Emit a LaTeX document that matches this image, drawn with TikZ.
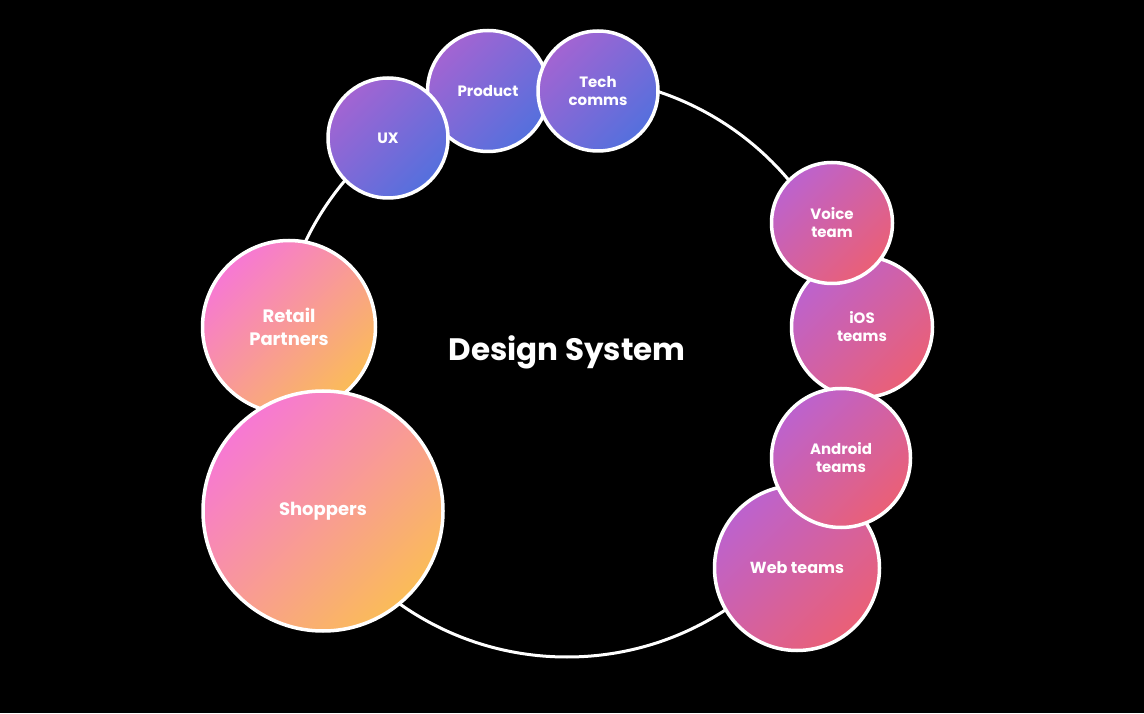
\documentclass[tikz,border=0pt]{standalone}
\usepackage{fontspec}
\setmainfont{Poppins}
\usepackage{tikz}
\definecolor{PurpleTop}{RGB}{163,100,210}
\definecolor{PurpleBottom}{RGB}{84,112,221}
\definecolor{PinkTop}{RGB}{188,98,206}
\definecolor{PinkBottom}{RGB}{234,96,118}
\definecolor{PeachTop}{RGB}{247,120,212}
\definecolor{PeachBottom}{RGB}{250,188,88}

\begin{document}
\begin{tikzpicture}[
    x=1pt, y=1pt,
    font=\bfseries,
    bubble/.style={
        circle,
        draw=white,
        line width=3.5pt,
        text=white,
        align=center,
        inner sep=0pt
    },
    purplebubble/.style={bubble, top color=PurpleTop, bottom color=PurpleBottom, shading angle=45, font=\bfseries\fontsize{15}{18}\selectfont},
    pinkbubble/.style={bubble, top color=PinkTop, bottom color=PinkBottom, shading angle=45, font=\bfseries\fontsize{15}{18}\selectfont},
    peachbubble/.style={bubble, top color=PeachTop, bottom color=PeachBottom, shading angle=45, font=\bfseries\fontsize{18}{23}\selectfont},
    ring/.style={circle, draw=white, line width=3pt, inner sep=0pt}
]

\fill[black] (0,0) rectangle (1144,713);
\useasboundingbox (0,0) rectangle (1144,713);

\node[ring, minimum size=580] (orbit) at (567,346) {};
\node[text=white, font=\bfseries\fontsize{31}{36}\selectfont] (title) at (567,361) {Design System};

% top
\node[purplebubble, minimum size=121] (product) at (488,622) {Product};
\node[purplebubble, minimum size=120] (techcomms) at (598,622) {Tech\\comms};
\node[purplebubble, minimum size=120] (ux) at (388,575) {UX};

% right
\node[pinkbubble, minimum size=141] (ios) at (862,386) {iOS\\teams};
\node[pinkbubble, minimum size=121] (voice) at (832,490) {Voice\\team};
\node[pinkbubble, minimum size=165, font=\bfseries\fontsize{16}{18}\selectfont] (web) at (797,145) {Web teams};
\node[pinkbubble, minimum size=139] (android) at (841,255) {Android\\teams};

% left
\node[peachbubble, minimum size=173] (retail) at (289,386) {Retail\\Partners};
\node[peachbubble, minimum size=240] (shoppers) at (323,202) {Shoppers};

\end{tikzpicture}
\end{document}
